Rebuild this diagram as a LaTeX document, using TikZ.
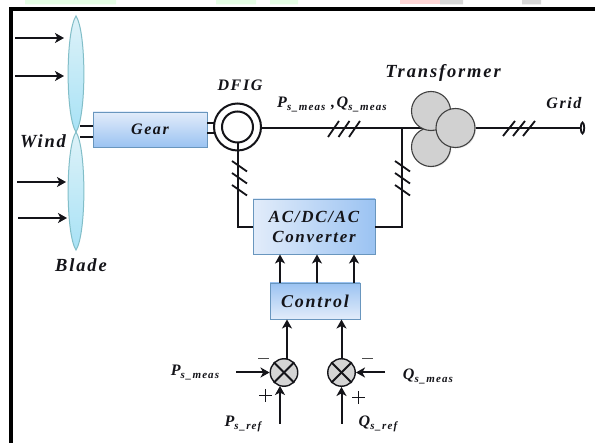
\documentclass[tikz,border=0pt]{standalone}
\usepackage{fontspec}
\setmainfont{Liberation Serif}
\newfontfamily\lblfont[LetterSpace=10]{Liberation Serif}
\usetikzlibrary{arrows.meta,calc,shadows,shapes.geometric}
\definecolor{boxedge}{RGB}{105,150,190}
\definecolor{boxlight}{RGB}{226,236,250}
\definecolor{boxdark}{RGB}{155,195,242}
\definecolor{bladepale}{RGB}{222,242,248}
\definecolor{bladedeep}{RGB}{168,226,246}
\definecolor{bladeedge}{RGB}{130,190,200}
\definecolor{inkc}{RGB}{20,20,25}
\tikzset{
 x=1pt,y=-1pt,
 wire/.style={line width=2pt,inkc},
 tick/.style={line width=1.8pt,inkc},
 arrowline/.style={line width=2pt,inkc,-{Stealth[length=9pt,width=10pt,inset=2.5pt]}},
 windarrow/.style={line width=1.6pt,inkc,-{Stealth[length=9pt,width=10pt,inset=2.5pt]}},
 blockbox/.style={draw=boxedge,line width=0.8pt,inner sep=0pt,text=inkc,align=center,font=\lblfont\fontsize{17}{19}\selectfont\bfseries\itshape},
 bladeshape/.style={draw=bladeedge,line width=1pt,top color=bladepale,bottom color=bladedeep},
 lab/.style={font=\lblfont\fontsize{16}{18}\selectfont\bfseries\itshape,inner sep=0pt,text=inkc},
 biglab/.style={lab,font=\lblfont\fontsize{18.5}{20}\selectfont\bfseries\itshape},
 trafo/.style={circle,draw=black!75,line width=1.1pt,fill=black!18,minimum size=39pt,inner sep=0pt,drop shadow={opacity=.2,shadow xshift=1pt,shadow yshift=-1pt}},
 summer/.style={circle,draw=inkc,line width=1.4pt,fill=black!17,minimum size=27.5pt,inner sep=0pt},
 blob/.style={draw=none,opacity=.75},
}
\newcommand{\Sx}[2]{#1{\fontsize{11}{11}\selectfont\raisebox{-3pt}{#2}}}
\begin{document}
\begin{tikzpicture}
\useasboundingbox (0,0) rectangle (595,443);
\fill[white] (0,0) rectangle (595,443);
% residue along the top
\fill[blob,green!12] (25,0) rectangle (116,4.5) (216,0) rectangle (256,4.5) (270,0) rectangle (298,4.5);
\fill[blob,red!20] (400,0) rectangle (440,4.5);
\fill[blob,black!20] (440,0) rectangle (463,4.5) (522,0) rectangle (541,4.5);
% frame
\draw[line width=3.6pt,black] (10.7,443) -- (10.7,9.2) -- (595,9.2);
% blades
\coordinate (bladetop) at (76,16);
\coordinate (hub) at (76,132);
\coordinate (bladebot) at (76,250);
\path[bladeshape] (bladetop) .. controls (86.5,32) and (86.5,116) .. (hub) .. controls (65.5,116) and (65.5,32) .. (bladetop) -- cycle;
\path[bladeshape] (hub) .. controls (86.5,148) and (86.5,234) .. (bladebot) .. controls (65.5,234) and (65.5,148) .. (hub) -- cycle;
% wind
\foreach \n/\xa/\xb/\y in {wa/15/64/38,wb/15/64/76,wc/17/66/182,wd/18/67/218}{
 \coordinate (\n s) at (\xa,\y); \coordinate (\n e) at (\xb,\y);
 \draw[windarrow] (\n s) -- (\n e);
}
% boxes
\node[blockbox,font=\lblfont\fontsize{16}{18}\selectfont\bfseries\itshape,top color=boxlight,bottom color=boxdark,minimum width=114pt,minimum height=35pt] (gear) at (150,129.5) {Gear};
\node[blockbox,left color=boxlight,right color=boxdark,minimum width=122pt,minimum height=55pt] (conv) at (314,226.5) {AC/DC/AC\\[1pt]Converter};
\node[blockbox,font=\lblfont\fontsize{18}{20}\selectfont\bfseries\itshape,top color=boxdark,bottom color=boxlight,minimum width=90pt,minimum height=36pt] (ctrl) at (315,301) {Control};
% DFIG
\node[circle,draw=inkc,line width=2pt,minimum size=47pt,inner sep=0pt] (dfigo) at (237.5,127) {};
\node[circle,draw=inkc,line width=2pt,minimum size=31pt,inner sep=0pt] (dfigi) at (237.5,127) {};
% shaft
\draw[wire] (80,126) -- (gear.west |- 0,126);
\draw[wire] (80,137) -- (gear.west |- 0,137);
\draw[wire] (gear.east |- 0,123) -- (214,123);
\draw[wire] (gear.east |- 0,133) -- (214,133);
% transformer
\coordinate (bus) at (401.5,127.7);
\coordinate (gridend) at (580,127.7);
\draw[wire] (dfigo.east |- bus) -- (bus) -- (425,127.7);
\node[trafo] (tb) at (431,147) {};
\node[trafo] (ta) at (431,111) {};
\node[trafo] (tc) at (455.5,128) {};
\draw[wire] (tc.east |- gridend) -- (gridend);
\node[ellipse,draw=inkc,line width=1.8pt,minimum width=3.5pt,minimum height=11pt,inner sep=0pt,fill=white] (gridpt) at (582.5,128) {};
% converter links
\draw[wire,line join=miter] (dfigi.south) -- (237.5,227) -- (conv.west |- 0,227);
\draw[wire,line join=miter] (bus) -- (401.5,227) -- (conv.east |- 0,227);
% slashes
\foreach \x in {0,10.5,21}{\draw[tick] (328+\x,137) -- (339+\x,121);}
\foreach \x in {0,10,20}{\draw[tick] (503+\x,136) -- (515+\x,121);}
\foreach \y in {0,12,24}{
 \draw[tick] (232,161+\y) -- (247,171.5+\y);
 \draw[tick] (395,161+\y) -- (410,171.5+\y);
}
% control arrows
\foreach \x in {280,317,354}{\draw[arrowline] (\x,283) -- (\x,254.5);}
% summers
\node[summer] (sa) at (284,372.5) {};
\node[summer] (sb) at (341.5,372.5) {};
\foreach \s in {sa,sb}{
 \draw[wire] (\s.45) -- (\s.225);
 \draw[wire] (\s.135) -- (\s.315);
}
\coordinate (pin) at (236,372.5); \coordinate (qin) at (385,372.5);
\coordinate (pref) at (280,424); \coordinate (qref) at (341.5,424);
\draw[arrowline] (pin) -- (sa.west);
\draw[arrowline] (qin) -- (sb.east);
\draw[arrowline] (pref) -- (280,386);
\draw[arrowline] (qref) -- (sb.south);
\draw[arrowline] (287,359) -- (287,319.5);
\draw[arrowline] (sb.north) -- (341.5,319.5);
% signs
\draw[line width=.9pt,black!70] (258,358) -- (269,358) (362,358) -- (373,358);
\draw[line width=1.3pt,inkc] (259,395.5) -- (272,395.5) (265.5,389) -- (265.5,402);
\draw[line width=1.3pt,inkc] (352,397.5) -- (365,397.5) (358.5,391) -- (358.5,404);
% labels
\node[biglab] (lwind) at (43,141) {Wind};
\node[biglab] (lblade) at (81,265) {Blade};
\node[lab] (ldfig) at (240,85) {DFIG};
\node[biglab] (ltrans) at (443,73) {Transformer};
\node[lab] (lgrid) at (564,103) {Grid};
\node[lab] (lpq) at (332,104) {\Sx{P}{s\_meas} ,\Sx{Q}{s\_meas}};
\node[lab] (lp) at (195,373) {\Sx{P}{s\_meas}};
\node[lab] (lq) at (428,376) {\Sx{Q}{s\_meas}};
\node[lab] (lpr) at (243,424) {\Sx{P}{s\_ref}};
\node[lab] (lqr) at (378,424) {\Sx{Q}{s\_ref}};
\end{tikzpicture}
\end{document}
